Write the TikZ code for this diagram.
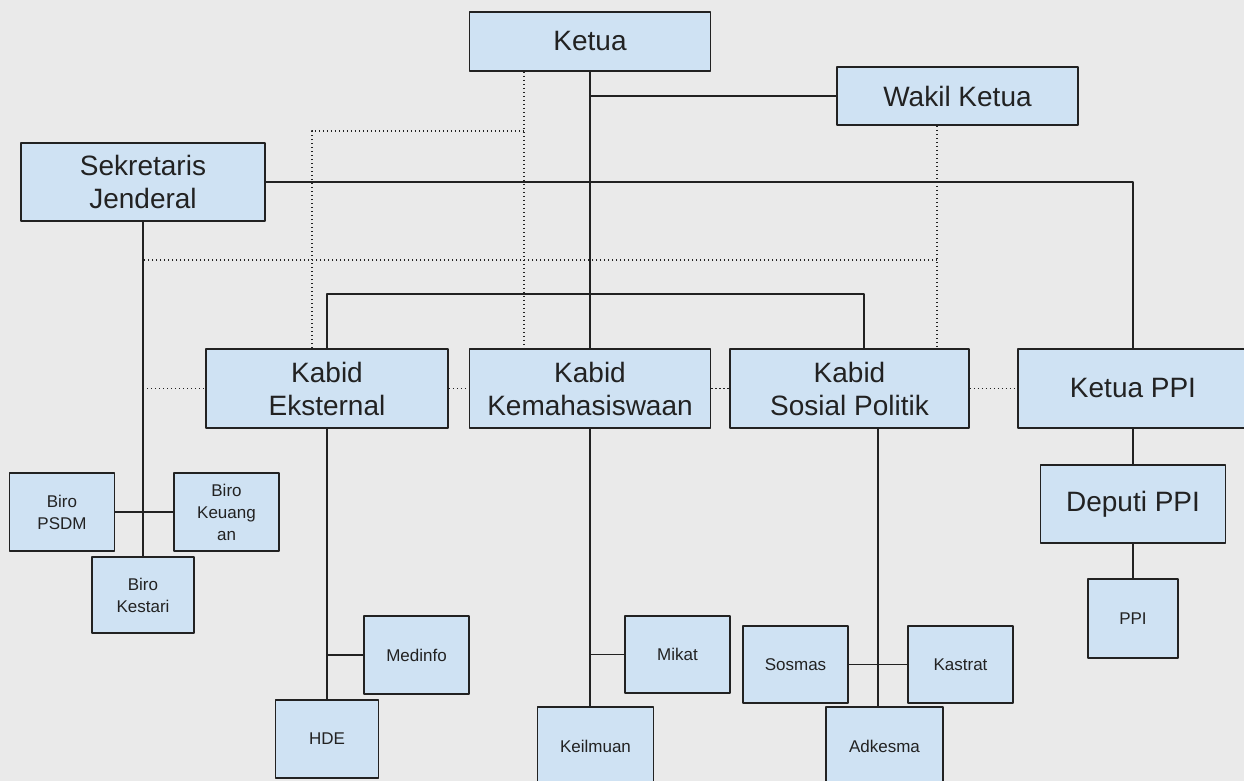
\documentclass[tikz,border=0pt]{standalone}
\usepackage{fontspec}
\setmainfont{Liberation Sans}
\definecolor{boxblue}{HTML}{CFE2F3}
\definecolor{paper}{HTML}{EAEAEA}
\definecolor{ink}{HTML}{222222}

\tikzset{
  unit/.style={draw=ink, fill=boxblue, line width=1.8pt, align=center, inner sep=0pt, text=ink},
  bigbox/.style={unit, minimum width=241pt, minimum height=59pt, font=\fontsize{28}{33}\selectfont},
  smallbox/.style={unit, minimum width=105pt, minimum height=78pt, font=\fontsize{17}{22}\selectfont},
  link/.style={draw=ink, line width=1.8pt},
  soft/.style={draw=ink, line width=1.3pt, dash pattern=on 1.3pt off 2.7pt}
}

\begin{document}
\begin{tikzpicture}[x=1pt, y=-1pt, line join=round]
\fill[paper] (0,0) rectangle (1244,781);
\useasboundingbox (0,0) rectangle (1244,781);

% pimpinan
\node[bigbox] (ketua) at (590,41.5) {Ketua};
\node[bigbox, minimum height=58pt] (wakil) at (957.5,96) {Wakil Ketua};
\node[bigbox, minimum width=244pt, minimum height=78pt] (sekjen) at (143,182) {Sekretaris\\Jenderal};

% kabid
\node[bigbox, minimum width=242pt, minimum height=79pt] (kabideks) at (327,388.5) {Kabid\\Eksternal};
\node[bigbox, minimum height=79pt] (kabidkema) at (590,388.5) {Kabid\\Kemahasiswaan};
\node[bigbox, minimum width=239pt, minimum height=79pt] (kabidsospol) at (849.5,388.5) {Kabid\\Sosial Politik};
\node[bigbox, minimum width=230pt, minimum height=79pt] (ketuappi) at (1133,388.5) {Ketua PPI};
\node[bigbox, minimum width=185pt, minimum height=78pt] (deputi) at (1133,504) {Deputi PPI};

% biro dan divisi
\node[smallbox, minimum width=90pt, minimum height=79pt] (ppi) at (1133,618.5) {PPI};
\node[smallbox] (psdm) at (62,512) {Biro\\PSDM};
\node[smallbox] (keuangan) at (226.5,512) {Biro\\Keuang\\an};
\node[smallbox, minimum width=102pt, minimum height=76pt] (kestari) at (143,595) {Biro\\Kestari};
\node[smallbox] (medinfo) at (416.5,655) {Medinfo};
\node[smallbox, minimum width=103pt] (hde) at (327,739) {HDE};
\node[smallbox, minimum height=77pt] (mikat) at (677.5,654.5) {Mikat};
\node[smallbox, minimum width=116pt] (keilmuan) at (595.5,746) {Keilmuan};
\node[smallbox, minimum height=77pt] (sosmas) at (795.5,664.5) {Sosmas};
\node[smallbox, minimum height=77pt] (kastrat) at (960.5,664.5) {Kastrat};
\node[smallbox, minimum width=117pt] (adkesma) at (884.5,746) {Adkesma};

\coordinate (sospoltop) at ([xshift=14.5pt]kabidsospol.north);
\coordinate (sospolbot) at ([xshift=28.5pt]kabidsospol.south);
\coordinate (ekstop) at ([xshift=-15pt]kabideks.north);
\coordinate (kdot) at ([xshift=-66pt]ketua.south);
\coordinate (wdot) at ([xshift=-20.5pt]wakil.south);
\coordinate (midline) at ([yshift=-134pt]wdot);

% garis komando
\draw[link] (ketua.south) -- (kabidkema.north);
\draw[link] (ketua.south |- wakil.west) -- (wakil.west);
\draw[link] (sekjen.east) -- (ketuappi.north |- sekjen.east) -- (ketuappi.north);
\draw[link] (kabideks.north) -- ++(0,-54) -| (sospoltop);
\draw[link] (sekjen.south) -- (kestari.north);
\draw[link] (psdm.east) -- (keuangan.west);
\draw[link] (kabideks.south) -- (hde.north);
\draw[link] (medinfo.west) -- (kabideks.south |- medinfo.west);
\draw[link] (kabidkema.south) -- (kabidkema.south |- keilmuan.north);
\draw[link] (mikat.west) -- (kabidkema.south |- mikat.west);
\draw[link] (sospolbot) -- (sospolbot |- adkesma.north);
\draw[link] (sosmas.east) -- (kastrat.west);
\draw[link] (ketuappi.south) -- (deputi.north);
\draw[link] (deputi.south) -- (ppi.north);

% garis koordinasi
\draw[soft] (kdot) -- (kdot |- kabidkema.north);
\draw[soft] (ekstop) |- ([yshift=-59pt]kdot);
\draw[soft] (wdot) -- (wdot |- kabidsospol.north);
\draw[soft] (midline) -- (sekjen.south |- midline);
\draw[soft] (sekjen.south |- kabideks.west) -- (kabideks.west);
\draw[soft] (kabideks.east) -- (kabidkema.west);
\draw[soft] (kabidkema.east) -- (kabidsospol.west);
\draw[soft] (kabidsospol.east) -- (ketuappi.west);

\end{tikzpicture}
\end{document}
